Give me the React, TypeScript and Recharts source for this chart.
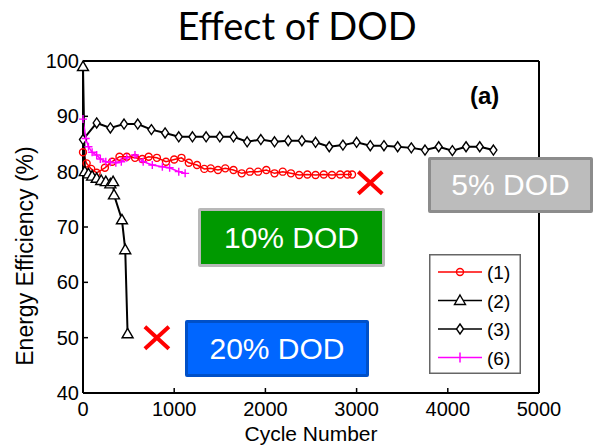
import { LineChart, Line, XAxis, YAxis, ReferenceDot, Legend } from 'recharts';

// (1) red circles
const cycles1 = [0, 40, 90, 150, 240, 320, 400, 480, 570, 650, 720, 810, 910, 1000, 1080, 1160, 1250, 1330, 1400, 1480, 1560, 1650, 1740, 1830, 1920, 2010, 2100, 2190, 2280, 2370, 2460, 2550, 2640, 2730, 2820, 2900, 2950];
const eff1 = [83.5, 81.5, 80.5, 79.8, 80.7, 81.8, 82.7, 82.7, 82.5, 82.3, 82.7, 82.5, 81.8, 82.2, 82.5, 81.6, 81.2, 80.5, 80.6, 80.3, 80.6, 80.3, 79.7, 80.0, 80.0, 80.3, 79.7, 80.0, 79.7, 79.4, 79.5, 79.4, 79.5, 79.4, 79.5, 79.5, 79.5];

// (2) black triangles
const cycles2 = [0, 20, 60, 100, 150, 200, 250, 300, 330, 340, 427, 463, 489];
const eff2 = [99, 80, 79.6, 79.2, 78.8, 78.4, 78.2, 77.8, 78.2, 75.8, 71.3, 65.9, 50.7];

// (3) black diamonds
const cycles3 = [0, 150, 300, 450, 600, 750, 900, 1050, 1200, 1350, 1500, 1650, 1800, 1950, 2100, 2250, 2400, 2550, 2700, 2850, 3000, 3150, 3300, 3450, 3600, 3750, 3900, 4050, 4200, 4350, 4500];
const eff3 = [85.8, 88.8, 87.9, 88.6, 88.6, 87.6, 87.0, 86.3, 86.3, 86.3, 86.3, 86.3, 85.4, 85.8, 85.4, 85.6, 85.6, 85.3, 84.5, 84.8, 85.3, 84.7, 84.7, 84.5, 84.3, 83.9, 84.5, 83.8, 84.5, 84.5, 83.9];

// (6) magenta plus
const cycles6 = [0, 30, 60, 100, 150, 190, 250, 300, 360, 420, 480, 570, 660, 760, 870, 950, 1050, 1120];
const eff6 = [89.5, 86, 84.5, 83.5, 83, 82.3, 81.8, 81.7, 81.6, 81.8, 82.5, 83.0, 81.8, 81.2, 80.9, 80.7, 80.0, 79.7];

// red crosses (end of test)
const crossCycles = [3150, 810];
const crossEff = [78, 50];

const xTicks = [0, 1000, 2000, 3000, 4000, 5000];
const yTicks = [40, 50, 60, 70, 80, 90, 100];
const seriesNames = ['(1)', '(2)', '(3)', '(6)'];

const toPoints = (xs: number[], ys: number[]) => xs.map((x, i) => ({ x, y: ys[i] }));

const FONT = 'Liberation Sans, Arial, sans-serif';
const RED = '#ff0000';
const MAGENTA = '#ff00ff';

function circleAt(cx: number, cy: number, key?: any) {
  return <circle key={key} cx={cx} cy={cy} r={3.5} fill="none" stroke={RED} strokeWidth={1.4} />;
}
function triangleAt(cx: number, cy: number, key?: any) {
  return (
    <path key={key} d={`M${cx},${cy - 5.5}L${cx + 5.5},${cy + 4}L${cx - 5.5},${cy + 4}Z`} fill="#fff" stroke="#000" strokeWidth={1.4} />
  );
}
function diamondAt(cx: number, cy: number, key?: any) {
  return (
    <path key={key} d={`M${cx},${cy - 5}L${cx + 3.5},${cy}L${cx},${cy + 5}L${cx - 3.5},${cy}Z`} fill="#fff" stroke="#000" strokeWidth={1.4} />
  );
}
function plusAt(cx: number, cy: number, key?: any) {
  return (
    <path key={key} d={`M${cx - 4},${cy}H${cx + 4}M${cx},${cy - 4}V${cy + 4}`} stroke={MAGENTA} strokeWidth={1.4} />
  );
}

const markers = [circleAt, triangleAt, diamondAt, plusAt];
const colors = [RED, '#000', '#000', MAGENTA];

function CrossShape(props: any) {
  const { cx, cy } = props;
  return (
    <path d={`M${cx - 12},${cy - 11}L${cx + 12},${cy + 11}M${cx + 12},${cy - 11}L${cx - 12},${cy + 11}`} stroke={RED} strokeWidth={4} />
  );
}

function LegendBox() {
  return (
    <svg width={92} height={120} style={{ display: 'block' }}>
      <rect x={0.75} y={0.75} width={90.5} height={118.5} fill="#fff" stroke="#666" strokeWidth={1.5} />
      {seriesNames.map((name, i) => {
        const y = 18 + i * 28.5;
        return (
          <g key={name}>
            <line x1={9} x2={53} y1={y} y2={y} stroke={colors[i]} strokeWidth={1.5} />
            {i === 3 ? (
              <line x1={31} x2={31} y1={y - 5} y2={y + 5} stroke={MAGENTA} strokeWidth={1.5} />
            ) : (
              markers[i](31, y)
            )}
            <text x={58} y={y + 7} fontSize={19} fontFamily={FONT} fill="#000">
              {name}
            </text>
          </g>
        );
      })}
    </svg>
  );
}

const boxBase: React.CSSProperties = {
  position: 'absolute',
  boxSizing: 'border-box',
  display: 'flex',
  alignItems: 'center',
  justifyContent: 'center',
  color: '#fff',
  fontFamily: FONT,
  fontSize: 30,
  borderStyle: 'solid',
  borderWidth: 3,
  borderRadius: 2,
};

export default function App() {
  const axisLine = { stroke: '#000', strokeWidth: 2 };
  const tickLine = { stroke: '#000', strokeWidth: 1.5 };
  const tickFont = { fontSize: 20, fontFamily: FONT, fill: '#000' };

  return (
    <div style={{ position: 'absolute', left: 0, top: 0, width: 594, height: 445, background: '#fff' }}>
      <LineChart width={594} height={445} margin={{ top: 60, right: 54, bottom: 22, left: 23 }}>
        <XAxis
          xAxisId="b"
          type="number"
          dataKey="x"
          domain={[0, 5000]}
          ticks={xTicks}
          height={30}
          axisLine={axisLine}
          tickLine={tickLine}
          tickSize={-5}
          tickMargin={14}
          tick={tickFont}
          interval={0}
        />
        <XAxis
          xAxisId="t"
          orientation="top"
          type="number"
          dataKey="x"
          domain={[0, 5000]}
          ticks={xTicks}
          height={1}
          axisLine={axisLine}
          tickLine={tickLine}
          tickSize={-5}
          tick={false}
        />
        <YAxis
          yAxisId="l"
          type="number"
          domain={[40, 100]}
          ticks={yTicks}
          width={60}
          axisLine={axisLine}
          tickLine={tickLine}
          tickSize={-5}
          tickMargin={9}
          tick={tickFont}
          interval={0}
        />
        <YAxis
          yAxisId="r"
          orientation="right"
          type="number"
          domain={[40, 100]}
          ticks={yTicks}
          width={1}
          axisLine={axisLine}
          tickLine={tickLine}
          tickSize={-5}
          tick={false}
        />
        <Line
          xAxisId="b"
          yAxisId="l"
          data={toPoints(cycles1, eff1)}
          dataKey="y"
          stroke={RED}
          strokeWidth={1.5}
          dot={(p: any) => circleAt(p.cx, p.cy, p.index)}
          isAnimationActive={false}
        />
        <Line
          xAxisId="b"
          yAxisId="l"
          data={toPoints(cycles3, eff3)}
          dataKey="y"
          stroke="#000"
          strokeWidth={2}
          dot={(p: any) => diamondAt(p.cx, p.cy, p.index)}
          isAnimationActive={false}
        />
        <Line
          xAxisId="b"
          yAxisId="l"
          data={toPoints(cycles2, eff2)}
          dataKey="y"
          stroke="#000"
          strokeWidth={2}
          dot={(p: any) => triangleAt(p.cx, p.cy, p.index)}
          isAnimationActive={false}
        />
        <Line
          xAxisId="b"
          yAxisId="l"
          data={toPoints(cycles6, eff6)}
          dataKey="y"
          stroke={MAGENTA}
          strokeWidth={1.5}
          dot={(p: any) => plusAt(p.cx, p.cy, p.index)}
          isAnimationActive={false}
        />
        {crossCycles.map((c, i) => (
          <ReferenceDot key={i} xAxisId="b" yAxisId="l" x={c} y={crossEff[i]} shape={CrossShape} />
        ))}
        <Legend
          layout="horizontal"
          verticalAlign="middle"
          align="center"
          content={() => <LegendBox />}
          wrapperStyle={{ position: 'absolute', left: 429, top: 254, width: 92, height: 120 }}
        />
      </LineChart>

      <div style={{ position: 'absolute', left: 0, top: 2, width: 594, textAlign: 'center', fontFamily: 'Lato, sans-serif', fontSize: 38 }}>
        Effect of DOD
      </div>
      <div style={{ position: 'absolute', left: 470, top: 82, fontFamily: FONT, fontWeight: 'bold', fontSize: 24 }}>(a)</div>
      <div
        style={{
          position: 'absolute',
          left: 0,
          top: 424,
          width: 622,
          textAlign: 'center',
          fontFamily: FONT,
          fontSize: 21,
          lineHeight: '20px',
        }}
      >
        Cycle Number
      </div>
      <div
        style={{
          position: 'absolute',
          left: 25,
          top: 256,
          transform: 'translate(-50%, -50%) rotate(-90deg)',
          whiteSpace: 'nowrap',
          fontFamily: FONT,
          fontSize: 23,
        }}
      >
        Energy Efficiency (%)
      </div>

      <div style={{ ...boxBase, left: 428, top: 157, width: 165, height: 56, background: '#bcbcbc', borderColor: '#8c8c8c' }}>5% DOD</div>
      <div style={{ ...boxBase, left: 198, top: 208, width: 187, height: 59, background: '#009900', borderColor: '#b8b8b8' }}>10% DOD</div>
      <div style={{ ...boxBase, left: 185, top: 320, width: 184, height: 57, background: '#0066ff', borderColor: '#0050c8' }}>20% DOD</div>
    </div>
  );
}
